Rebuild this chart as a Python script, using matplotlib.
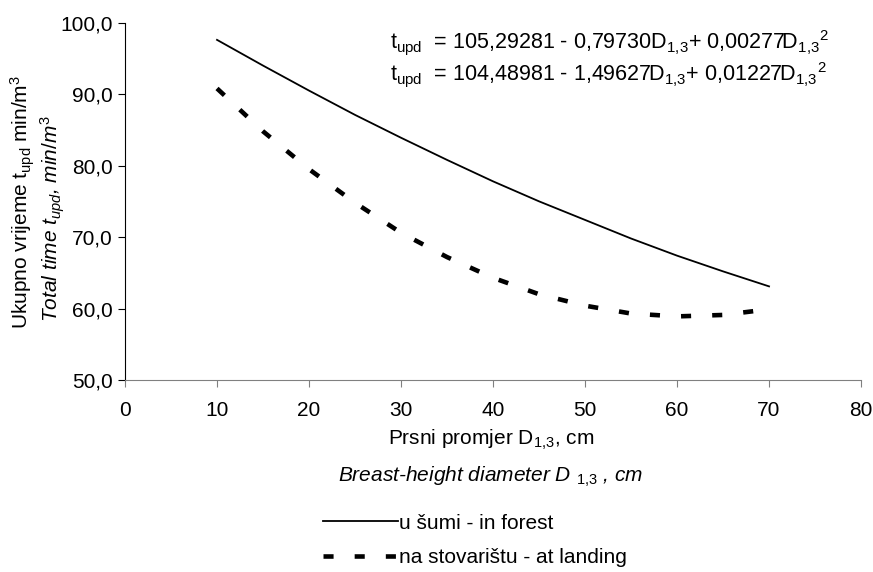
import matplotlib
matplotlib.use('Agg')
import matplotlib.pyplot as plt
from matplotlib.lines import Line2D

# readings, D1,3 in cm and time in min/m3
diam = [10, 15, 20, 25, 30, 35, 40, 45, 50, 55, 60, 65, 70]
forest = [97.6, 94.0, 90.5, 87.1, 83.9, 80.8, 77.8, 75.0, 72.4, 69.8, 67.4, 65.2, 63.1]
landing = [90.8, 84.8, 79.5, 74.8, 70.6, 67.2, 64.3, 62.0, 60.4, 59.3, 58.9, 59.1, 59.9]

x_ticks = [0, 10, 20, 30, 40, 50, 60, 70, 80]
y_ticks = [50, 60, 70, 80, 90, 100]
y_labels = ['50,0', '60,0', '70,0', '80,0', '90,0', '100,0']

sub13 = r'$\mathregular{_{1{,}3}}$'
sq = r'$\mathregular{{}^{2}}$'
eq_forest = r't$\mathregular{_{upd}}$  = 105,29281 - 0,79730D' + sub13 + '+ 0,00277D' + sub13 + sq
eq_landing = r't$\mathregular{_{upd}}$  = 104,48981 - 1,49627D' + sub13 + '+ 0,01227D' + sub13 + sq

plt.rcParams['font.family'] = ['Liberation Sans', 'DejaVu Sans']
plt.rcParams['mathtext.fontset'] = 'custom'
plt.rcParams['mathtext.rm'] = 'Liberation Sans'
plt.rcParams['mathtext.it'] = 'Liberation Sans:italic'

fs = 15

fig = plt.figure(figsize=(8.73, 5.72), dpi=100)
ax = fig.add_axes([0.1432, 0.3357, 0.8431, 0.6246])

ax.plot(diam, forest, color='black', lw=1.3)
ax.plot(diam, landing, color='black', lw=3.3, dashes=(2.2, 4.6), dash_capstyle='butt')

ax.set_xlim(0, 80)
ax.set_ylim(50, 100)
ax.set_xticks(x_ticks)
ax.set_yticks(y_ticks)
ax.set_yticklabels(y_labels)
ax.tick_params(labelsize=fs, direction='out', length=5)
ax.tick_params(axis='x', color='#808080', pad=10)
ax.tick_params(axis='y', pad=4)
ax.spines['top'].set_visible(False)
ax.spines['right'].set_visible(False)
ax.spines['bottom'].set_color('#808080')

ax.text(0.36, 0.946, eq_forest, transform=ax.transAxes, fontsize=15.5, va='center')
ax.text(0.36, 0.856, eq_landing, transform=ax.transAxes, fontsize=15.5, va='center')

# axis titles, two languages
fig.text(0.026, 0.647, r'Ukupno vrijeme t$\mathregular{_{upd}}$ min/m$\mathregular{^3}$',
         rotation=90, ha='center', va='center', fontsize=fs)
fig.text(0.061, 0.618, r'Total time $t_{upd}$, $min/m^3$',
         rotation=90, ha='center', va='center', fontsize=fs, style='italic')
fig.text(0.562, 0.231, r'Prsni promjer D' + sub13 + ', cm',
         ha='center', va='center', fontsize=fs)
fig.text(0.562, 0.166, r'Breast-height diameter D $\mathit{{}_{1{,}3}}$ , cm',
         ha='center', va='center', fontsize=fs, style='italic')

handles = [Line2D([], [], color='black', lw=1.3),
           Line2D([], [], color='black', lw=3.3, dashes=(2.2, 4.6), dash_capstyle='butt')]
fig.legend(handles, ['u šumi - in forest', 'na stovarištu - at landing'],
           loc='upper left', bbox_to_anchor=(0.37, 0.102), frameon=False,
           fontsize=fs, handlelength=3.6, handletextpad=0.05, labelspacing=0.75,
           borderpad=0, borderaxespad=0)

fig.savefig('out.png', dpi=100)
